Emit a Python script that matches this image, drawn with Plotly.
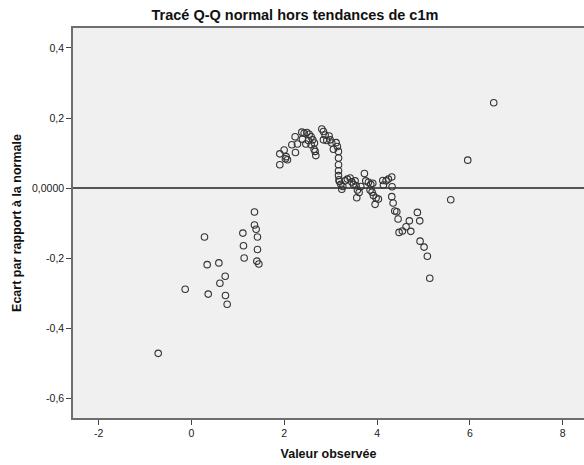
import plotly.graph_objects as go

obs_x = [
    -0.715, -0.134, 0.282, 0.340, 0.362, 0.592, 0.614, 0.728, 0.734, 0.771,
    1.109, 1.122, 1.137, 1.359, 1.359, 1.395, 1.423, 1.423, 1.410, 1.453,
    1.905, 1.905, 1.998, 2.026, 2.041, 2.070, 2.164, 2.235, 2.242, 2.285,
    2.379, 2.392, 2.429, 2.466, 2.487, 2.522, 2.537, 2.580, 2.580, 2.616,
    2.644, 2.651, 2.666, 2.681,
    2.810, 2.845, 2.845, 2.881, 2.918, 2.967, 2.989, 3.025, 3.060, 3.118,
    3.146, 3.168, 3.170, 3.170, 3.170, 3.170, 3.180, 3.189, 3.219, 3.241,
    3.262, 3.312, 3.361, 3.420, 3.456, 3.490, 3.527, 3.549, 3.563, 3.577,
    3.614, 3.650, 3.728, 3.757, 3.814, 3.850, 3.865, 3.893, 3.908, 3.922,
    3.958, 3.979, 4.029, 4.124, 4.137, 4.195, 4.245, 4.317, 4.324, 4.317,
    4.346, 4.382, 4.425, 4.453, 4.475, 4.546, 4.625, 4.696, 4.727, 4.869,
    4.920, 4.927, 5.013, 5.084, 5.136, 5.588, 5.954, 6.514,
]
dev_y = [
    -0.471, -0.288, -0.139, -0.218, -0.302, -0.213, -0.271, -0.251, -0.306, -0.331,
    -0.128, -0.164, -0.199, -0.068, -0.105, -0.117, -0.139, -0.175, -0.208, -0.216,
    0.067, 0.098, 0.109, 0.084, 0.090, 0.081, 0.124, 0.147, 0.102, 0.126,
    0.160, 0.140, 0.157, 0.126, 0.159, 0.136, 0.154, 0.147, 0.124, 0.138,
    0.111, 0.129, 0.105, 0.093,
    0.169, 0.162, 0.138, 0.152, 0.136, 0.149, 0.138, 0.129, 0.111, 0.130,
    0.119, 0.105, 0.086, 0.067, 0.050, 0.036, 0.024, 0.019, 0.011, -0.003,
    0.005, 0.021, 0.026, 0.029, 0.018, 0.011, 0.021, 0.007, -0.027, -0.005,
    -0.012, 0.005, 0.042, 0.021, 0.017, -0.005, 0.011, -0.011, 0.014, -0.021,
    -0.046, -0.028, -0.031, 0.022, 0.009, 0.021, 0.026, 0.032, 0.004, -0.024,
    -0.042, -0.065, -0.067, -0.088, -0.126, -0.122, -0.110, -0.093, -0.123, -0.069,
    -0.093, -0.151, -0.168, -0.194, -0.257, -0.033, 0.080, 0.244,
]

x_ticks = [-2, 0, 2, 4, 6, 8]
x_tick_labels = ["-2", "0", "2", "4", "6", "8"]
y_ticks = [0.4, 0.2, 0.0, -0.2, -0.4, -0.6]
y_tick_labels = ["0,4", "0,2", "0,0000", "-0,2", "-0,4", "-0,6"]

fig = go.Figure()
fig.add_trace(go.Scatter(
    x=obs_x, y=dev_y, mode="markers",
    marker=dict(symbol="circle-open", size=6.5, color="#333333",
                line=dict(width=1.1, color="#333333")),
    showlegend=False, hoverinfo="x+y",
))

font_family = "Liberation Sans, Arial, sans-serif"
fig.update_layout(
    width=584, height=465,
    margin=dict(l=73, r=0, t=28, b=47),
    paper_bgcolor="white",
    plot_bgcolor="#f0f0f0",
    font=dict(family=font_family, color="#222222"),
    title=dict(text="<b>Tracé Q-Q normal hors tendances de c1m</b>",
               x=0.505, xanchor="center", xref="container",
               y=1 - 15 / 465, yanchor="middle", yref="container",
               font=dict(size=14.5, color="#111111", family=font_family)),
)
fig.update_xaxes(
    range=[-2.551, 8.459], tickvals=x_ticks, ticktext=x_tick_labels,
    showgrid=False, zeroline=False,
    showline=True, linecolor="#6e6e6e", linewidth=1.5, mirror=True,
    ticks="outside", ticklen=5, tickwidth=1, tickcolor="#444444",
    tickfont=dict(size=10.5, color="#1a1a1a"),
    title=dict(text="<b>Valeur observée</b>", standoff=11,
               font=dict(size=12.5, color="#111111")),
)
fig.update_yaxes(
    range=[-0.6554, 0.457], tickvals=y_ticks, ticktext=y_tick_labels,
    showgrid=False,
    zeroline=True, zerolinecolor="#555555", zerolinewidth=1.5,
    showline=True, linecolor="#6e6e6e", linewidth=1.5,
    ticks="outside", ticklen=5, tickwidth=1, tickcolor="#444444",
    tickfont=dict(size=10.5, color="#1a1a1a"),
    title=dict(text="<b>Ecart par rapport à la normale</b>", standoff=8,
               font=dict(size=12.5, color="#111111")),
)

fig.write_html("out.html")
